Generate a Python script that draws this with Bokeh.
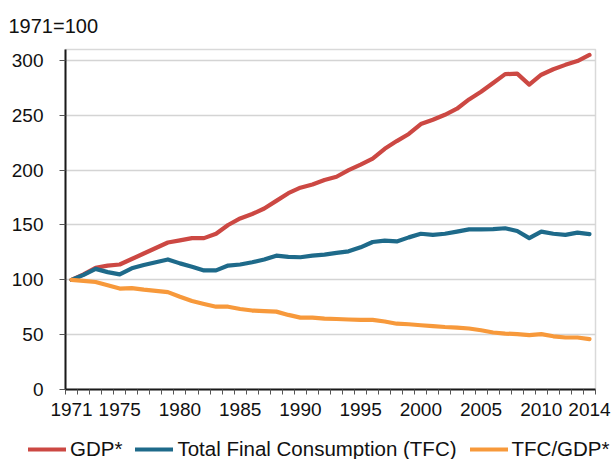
from bokeh.plotting import figure
from bokeh.models import Range1d, FixedTicker, Legend, LegendItem
from bokeh.layouts import column
from bokeh.embed import file_html
from bokeh.resources import INLINE

years = list(range(1971, 2015))
gdp = [100, 105, 111, 113, 114, 119, 124, 129, 134, 136, 138, 138, 142, 150, 156, 160, 165, 172, 179, 184,
       187, 191, 194, 200, 205, 210.5, 219.5, 226.5, 233, 242, 246, 250.5, 256, 264.5, 271.5, 279.5, 287.5, 288, 278, 287,
       292, 296, 299.5, 305]
tfc = [100, 104.5, 110, 107, 105, 110.5, 113.5, 116, 118.6, 115, 112, 108.6, 108.6, 113, 114, 116, 118.5, 122, 121, 120.6,
       122, 123, 124.5, 126, 129.6, 134.5, 135.7, 135, 138.7, 142, 141, 142, 144, 146, 146, 146.3, 147, 144.5, 138, 144,
       142, 141, 143, 141.7]
tfc_gdp = [100, 99, 98, 95, 92, 92.5, 91, 90, 88.8, 84.5, 80.7, 78, 75.5, 75.5, 73.4, 72, 71.5, 71, 68, 65.5,
           65.5, 64.6, 64.3, 63.8, 63.5, 63.5, 62, 60, 59.5, 58.6, 57.8, 57, 56.5, 55.6, 54, 52, 51, 50.5, 49.6, 50.5,
           48.5, 47.4, 47.4, 46]
label_years = [1971, 1975, 1980, 1985, 1990, 1995, 2000, 2005, 2010, 2014]
y_ticks = [0, 50, 100, 150, 200, 250, 300]
series_names = ["GDP*", "Total Final Consumption (TFC)", "TFC/GDP*"]
colors = ["#CC4843", "#1E6A8A", "#F7993B"]

FONT = "Liberation Sans"
LW = 4.2

p = figure(width=614, height=430, output_backend="svg", toolbar_location=None,
           x_range=Range1d(years[0] - 0.5, years[-1] + 0.5), y_range=Range1d(0, 310),
           min_border_left=65, min_border_right=19, min_border_top=47, min_border_bottom=41)
p.frame_align = False
p.background_fill_color = "white"
p.border_fill_color = "white"
p.outline_line_color = "#D9D9D9"
p.outline_line_width = 1.5

for vals, c in zip([gdp, tfc, tfc_gdp], colors):
    p.line(years, vals, line_color=c, line_width=LW, line_join="round", line_cap="round")

# axes
p.xaxis.ticker = FixedTicker(ticks=label_years, minor_ticks=[y - 0.5 for y in years] + [years[-1] + 0.5])
p.yaxis.ticker = FixedTicker(ticks=y_ticks)
for ax in (p.xaxis[0], p.yaxis[0]):
    ax.axis_line_color = "#1A1A1A"
    ax.axis_line_width = 2
    ax.major_label_text_font = FONT
    ax.major_label_text_font_size = "19px"
    ax.major_label_text_color = "#111111"
p.yaxis.major_tick_out = 6
p.yaxis.major_tick_in = 0
p.yaxis.major_tick_line_color = "#555555"
p.yaxis.minor_tick_line_color = None
p.yaxis.major_label_standoff = 16
p.xaxis.major_tick_line_color = None
p.xaxis.minor_tick_out = 5
p.xaxis.minor_tick_in = 0
p.xaxis.minor_tick_line_color = "#555555"
p.xaxis.major_label_standoff = 7

p.xgrid.grid_line_color = None
p.ygrid.ticker = FixedTicker(ticks=y_ticks)
p.ygrid.grid_line_color = "#D4D4D4"
p.ygrid.grid_line_width = 1.5

# title
p.title.text = "1971=100"
p.title.align = "left"
p.title.offset = -57
p.title.text_font = FONT
p.title.text_font_size = "20px"
p.title.text_font_style = "normal"
p.title.text_color = "#111111"
p.title.standoff = 25

# legend strip below the chart
lf = figure(width=614, height=29, output_backend="svg", toolbar_location=None,
            x_range=Range1d(years[0] - 0.5, years[-1] + 0.5), y_range=Range1d(0, 310),
            x_axis_type=None, y_axis_type=None,
            min_border_left=0, min_border_right=0, min_border_top=0, min_border_bottom=0)
lf.frame_align = False
lf.outline_line_color = None
lf.xgrid.grid_line_color = None
lf.ygrid.grid_line_color = None
lrs = []
for vals, c in zip([gdp, tfc, tfc_gdp], colors):
    lrs.append(lf.line(years, vals, line_color=c, line_width=LW, line_join="round", line_cap="round", visible=False))

legend = Legend(items=[LegendItem(label=n, renderers=[r]) for n, r in zip(series_names, lrs)],
                orientation="horizontal", location=(28, -2), padding=0, margin=0, spacing=13,
                glyph_width=38, glyph_height=20, label_height=20, label_standoff=4,
                border_line_color=None, background_fill_alpha=0, inactive_fill_alpha=0,
                label_text_font=FONT, label_text_font_size="20.5px", label_text_color="#111111")
lf.add_layout(legend, "center")

layout = column(p, lf, spacing=0)
open("out.html", "w").write(file_html(layout, INLINE))
